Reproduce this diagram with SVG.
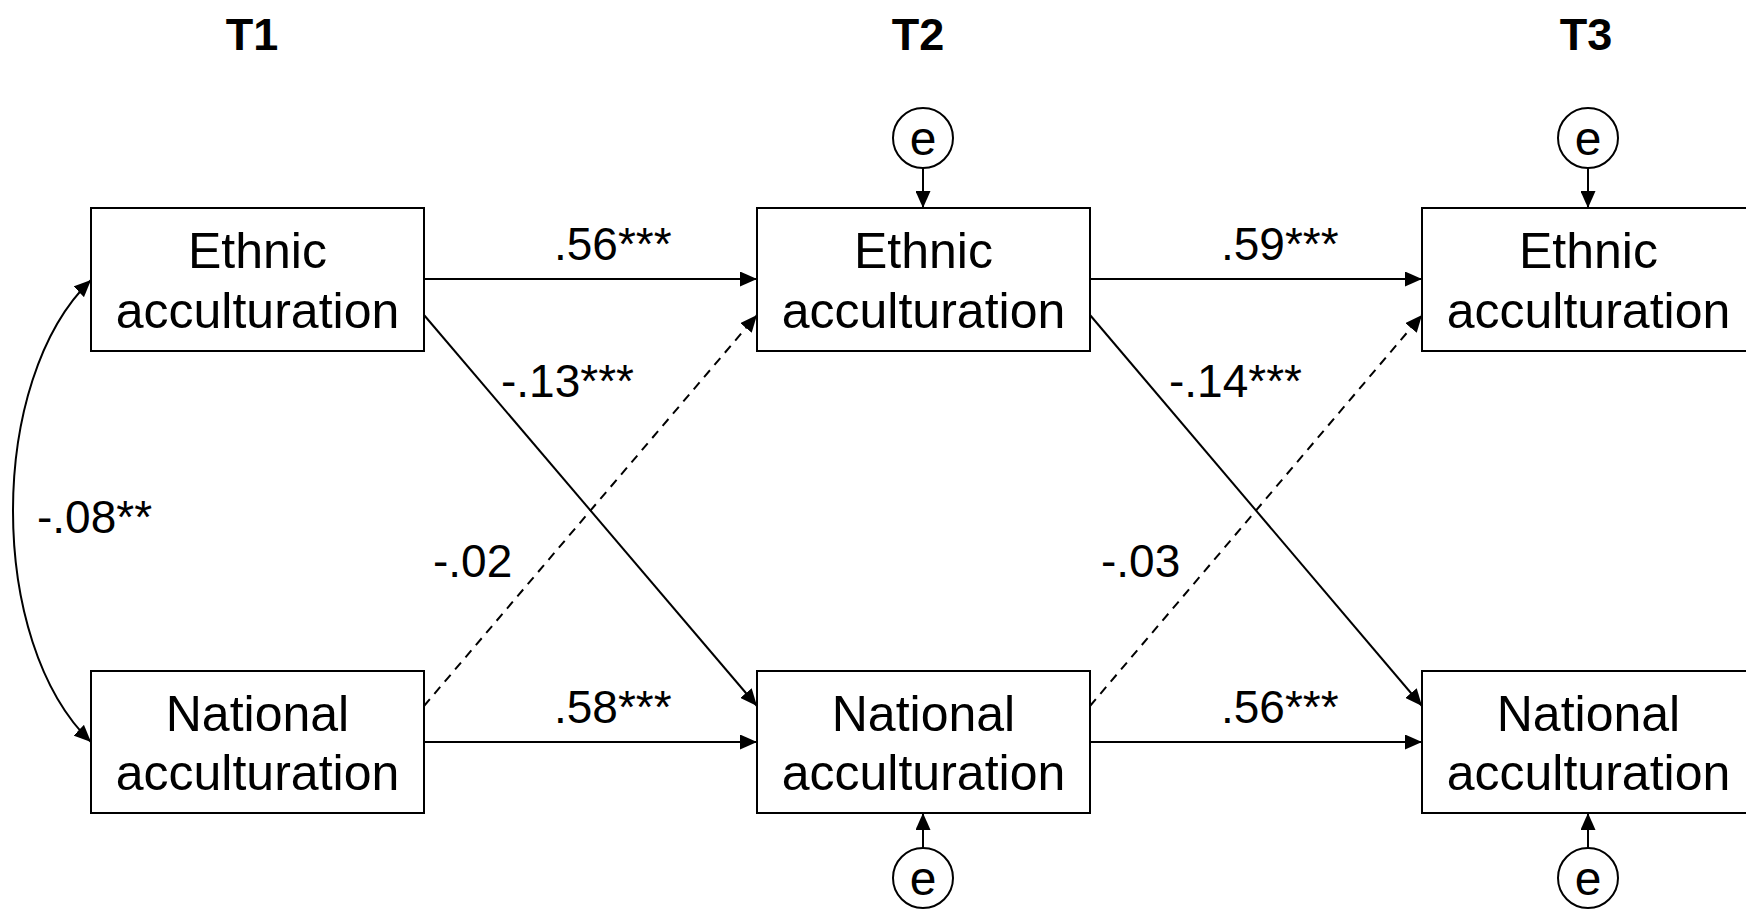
<svg xmlns="http://www.w3.org/2000/svg" width="1746" height="910" viewBox="0 0 1746 910">
<style>
.box{fill:#fff;stroke:#000;stroke-width:2}
.lbl{font-family:"Liberation Sans",Arial,sans-serif;font-size:50px;fill:#000;text-anchor:middle}
.hdr{font-family:"Liberation Sans",Arial,sans-serif;font-size:45px;font-weight:bold;fill:#000;text-anchor:middle}
.coef{font-family:"Liberation Sans",Arial,sans-serif;font-size:46px;fill:#000}
.err{fill:#fff;stroke:#000;stroke-width:2}
.etxt{font-family:"Liberation Sans",Arial,sans-serif;font-size:48px;fill:#000;text-anchor:middle}
.ln{fill:none;stroke:#000;stroke-width:2;marker-end:url(#ah)}
.dash{stroke-dasharray:9,7}
</style>
<defs>
<marker id="ah" markerUnits="userSpaceOnUse" markerWidth="17" markerHeight="15" refX="17" refY="7.5" orient="auto-start-reverse">
<path d="M0,0 L17,7.5 L0,15 Z" fill="#000"/>
</marker>
</defs>
<rect width="1746" height="910" fill="#fff"/>
<g id="headers">
<text class="hdr" x="252" y="50">T1</text>
<text class="hdr" x="918" y="50">T2</text>
<text class="hdr" x="1586" y="50">T3</text>
</g>
<g id="connectors">
<line class="ln" x1="424" y1="279" x2="757" y2="279"/>
<line class="ln" x1="424" y1="742" x2="757" y2="742"/>
<line class="ln" x1="424" y1="315" x2="757" y2="706"/>
<line class="ln dash" x1="424" y1="706" x2="757" y2="315"/>
<line class="ln" x1="1090" y1="279" x2="1422" y2="279"/>
<line class="ln" x1="1090" y1="742" x2="1422" y2="742"/>
<line class="ln" x1="1090" y1="315" x2="1422" y2="706"/>
<line class="ln dash" x1="1090" y1="706" x2="1422" y2="315"/>
<path class="ln" style="marker-start:url(#ah)" d="M91,280 C-13,380 -13,642 91,742"/>
<line class="ln" x1="923" y1="168" x2="923" y2="208"/>
<line class="ln" x1="923" y1="848" x2="923" y2="813"/>
<line class="ln" x1="1588" y1="168" x2="1588" y2="208"/>
<line class="ln" x1="1588" y1="848" x2="1588" y2="813"/>
</g>
<g id="coefficients">
<text class="coef" x="554" y="260">.56***</text>
<text class="coef" x="501" y="397">-.13***</text>
<text class="coef" x="433" y="577">-.02</text>
<text class="coef" x="554" y="723">.58***</text>
<text class="coef" x="37" y="533">-.08**</text>
<text class="coef" x="1221" y="260">.59***</text>
<text class="coef" x="1169" y="397">-.14***</text>
<text class="coef" x="1101" y="577">-.03</text>
<text class="coef" x="1221" y="723">.56***</text>
</g>
<g id="t1-ethnic">
<rect class="box" x="91" y="208" width="333" height="143"/>
<text class="lbl" x="257.5" y="268">Ethnic</text>
<text class="lbl" x="257.5" y="328">acculturation</text>
</g>
<g id="t1-national">
<rect class="box" x="91" y="671" width="333" height="142"/>
<text class="lbl" x="257.5" y="731">National</text>
<text class="lbl" x="257.5" y="790">acculturation</text>
</g>
<g id="t2-ethnic">
<rect class="box" x="757" y="208" width="333" height="143"/>
<text class="lbl" x="923.5" y="268">Ethnic</text>
<text class="lbl" x="923.5" y="328">acculturation</text>
</g>
<g id="t2-national">
<rect class="box" x="757" y="671" width="333" height="142"/>
<text class="lbl" x="923.5" y="731">National</text>
<text class="lbl" x="923.5" y="790">acculturation</text>
</g>
<g id="t3-ethnic">
<rect class="box" x="1422" y="208" width="333" height="143"/>
<text class="lbl" x="1588.5" y="268">Ethnic</text>
<text class="lbl" x="1588.5" y="328">acculturation</text>
</g>
<g id="t3-national">
<rect class="box" x="1422" y="671" width="333" height="142"/>
<text class="lbl" x="1588.5" y="731">National</text>
<text class="lbl" x="1588.5" y="790">acculturation</text>
</g>
<g id="e-t2-top">
<circle class="err" cx="923" cy="138" r="30"/>
<text class="etxt" x="923" y="155">e</text>
</g>
<g id="e-t2-bottom">
<circle class="err" cx="923" cy="878" r="30"/>
<text class="etxt" x="923" y="895">e</text>
</g>
<g id="e-t3-top">
<circle class="err" cx="1588" cy="138" r="30"/>
<text class="etxt" x="1588" y="155">e</text>
</g>
<g id="e-t3-bottom">
<circle class="err" cx="1588" cy="878" r="30"/>
<text class="etxt" x="1588" y="895">e</text>
</g>
</svg>
